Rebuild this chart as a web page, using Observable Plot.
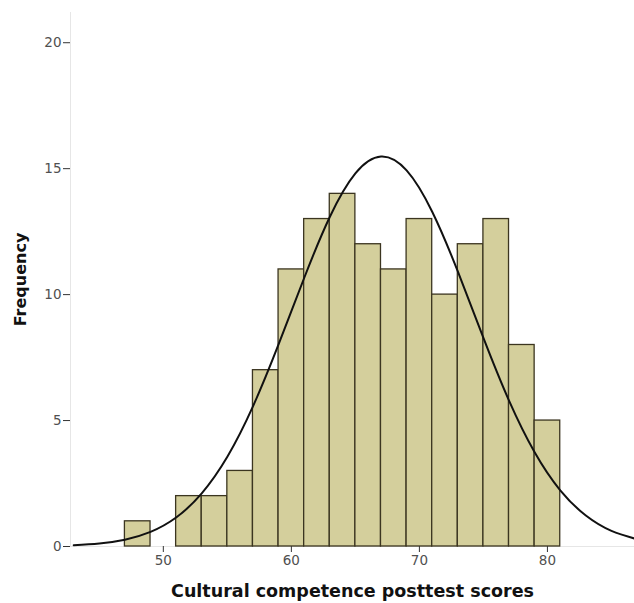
<!DOCTYPE html>
<html>
<head>
<meta charset="utf-8">
<script src="https://cdn.jsdelivr.net/npm/d3@7"></script>
<script src="https://cdn.jsdelivr.net/npm/@observablehq/plot@0.6"></script>
<style>
  html, body { margin: 0; padding: 0; background: #fff; }
  #chart svg { display: block; }
</style>
</head>
<body>
<div id="chart"></div>
<script>
// Histogram bins (lower edge, width 2) and frequencies
const binStarts = [47, 49, 51, 53, 55, 57, 59, 61, 63, 65, 67, 69, 71, 73, 75, 77, 79];
const counts    = [ 1,  0,  2,  2,  3,  7, 11, 13, 14, 12, 11, 13, 10, 12, 13,  8,  5];
const binWidth = 2;

// Normal curve
const curveX = [43, 45, 47, 49, 51, 53, 55, 57, 59, 61, 63, 65, 67, 69, 71, 73, 75, 77, 79, 81, 83, 85, 87];
const curveY = [0.05, 0.12, 0.27, 0.58, 1.15, 2.11, 3.56, 5.56, 8.02, 10.66, 13.08, 14.81, 15.48, 14.93, 13.29, 10.92, 8.28, 5.79, 3.74, 2.23, 1.23, 0.62, 0.29];

const xTicks = [50, 60, 70, 80];
const yTicks = [0, 5, 10, 15, 20];
const xTitle = "Cultural competence posttest scores";
const yTitle = "Frequency";

const bars = binStarts.map((s, i) => ({x1: s, x2: s + binWidth, y: counts[i]})).filter(d => d.y > 0);
const curve = curveX.map((x, i) => ({x, y: curveY[i]}));

const xDomain = [42.75, 86.8];
const yDomain = [0, 21.2];

const chart = Plot.plot({
  width: 634,
  height: 603,
  marginLeft: 70,
  marginRight: 0,
  marginTop: 12,
  marginBottom: 57,
  style: {fontFamily: "'DejaVu Sans', sans-serif", background: "#fff"},
  x: {domain: xDomain},
  y: {domain: yDomain},
  marks: [
    Plot.ruleX([xDomain[0]], {stroke: "#e6e6e6", strokeWidth: 1}),
    Plot.ruleY([0], {stroke: "#e6e6e6", strokeWidth: 1}),
    Plot.rectY(bars, {x1: "x1", x2: "x2", y: "y", fill: "#d4cf9c", stroke: "#3b3520", strokeWidth: 1.3}),
    Plot.line(curve, {x: "x", y: "y", curve: "natural", stroke: "#111", strokeWidth: 2}),
    Plot.axisX({ticks: xTicks, tickFormat: d => d, tickSize: 6, tickPadding: 3, fontSize: 13.5, color: "#505050", stroke: "#333", label: null}),
    Plot.axisY({ticks: yTicks, tickFormat: d => d, tickSize: 7, tickPadding: 2, fontSize: 13.5, color: "#505050", stroke: "#333", label: null}),
    Plot.text([xTitle], {frameAnchor: "bottom", dy: 50, fontSize: 17.5, fontWeight: "bold", fill: "#111"}),
    Plot.text([yTitle], {frameAnchor: "left", textAnchor: "middle", dx: -50, rotate: -90, fontSize: 16, fontWeight: "bold", fill: "#111"})
  ]
});
document.getElementById("chart").appendChild(chart);
</script>
</body>
</html>
